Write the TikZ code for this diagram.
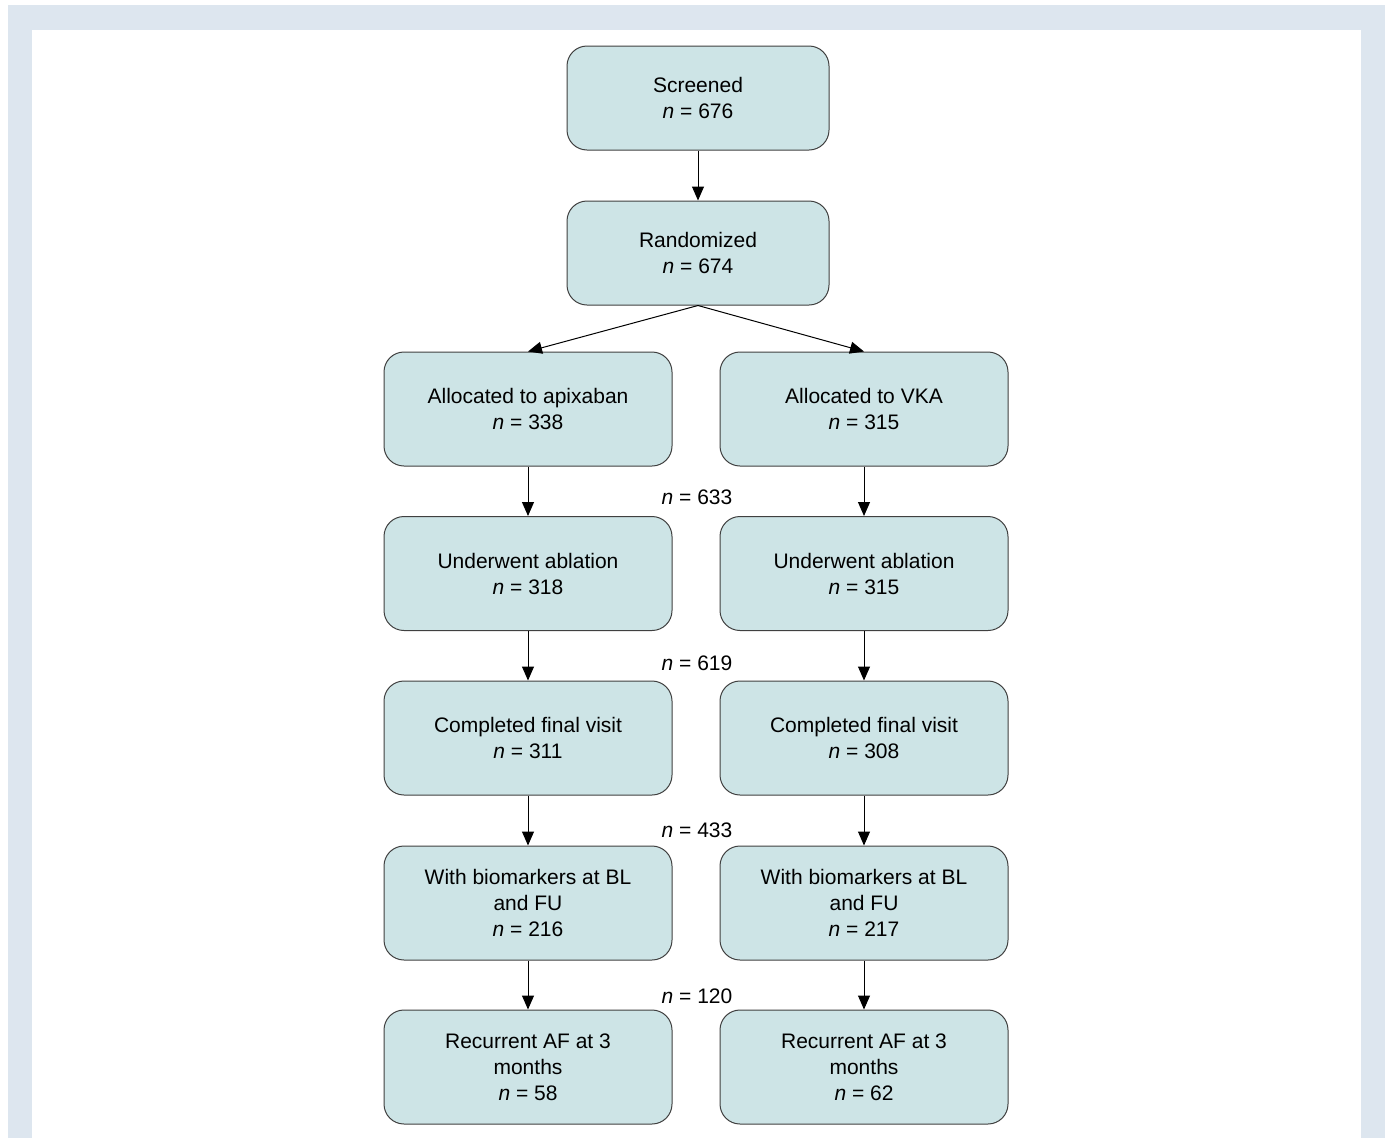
\documentclass[tikz,border=0pt]{standalone}
\usepackage{fontspec}
\setmainfont{Liberation Sans}
\usetikzlibrary{arrows.meta}

\definecolor{boxfill}{RGB}{205,228,230}
\definecolor{framebg}{RGB}{221,230,239}
\definecolor{boxline}{RGB}{64,64,64}

\tikzset{
  flowbox/.style={draw=boxline, fill=boxfill, rounded corners=20pt, line width=1pt,
    minimum width=288pt, minimum height=114pt, align=center, inner sep=0pt,
    font=\fontsize{21}{26}\selectfont},
  topbox/.style={flowbox, minimum width=262pt, minimum height=104pt},
  flowarrow/.style={-{Triangle[length=14pt,width=12pt]}, line width=1pt},
  countlabel/.style={inner sep=0pt, font=\fontsize{21}{26}\selectfont}
}

\begin{document}
\begin{tikzpicture}[x=1pt,y=-1pt]

% Frame and page
\useasboundingbox (0,0) rectangle (1386,1138);
\fill[framebg] (8,5) rectangle (1385,1138);
\fill[white] (32,30) rectangle (1361,1138);

% Top boxes
\node[topbox] (screened) at (698,98) {Screened\\\textit{n} = 676};
\node[topbox] (random) at (698,253) {Randomized\\\textit{n} = 674};

% Apixaban arm
\node[flowbox] (apixA) at (528,409) {Allocated to apixaban\\\textit{n} = 338};
\node[flowbox] (apixB) at (528,573.5) {Underwent ablation\\\textit{n} = 318};
\node[flowbox] (apixC) at (528,738) {Completed final visit\\\textit{n} = 311};
\node[flowbox] (apixD) at (528,903) {With biomarkers at BL\\and FU\\\textit{n} = 216};
\node[flowbox] (apixE) at (528,1067) {Recurrent AF at 3\\months\\\textit{n} = 58};

% VKA arm
\node[flowbox] (vkaA) at (864,409) {Allocated to VKA\\\textit{n} = 315};
\node[flowbox] (vkaB) at (864,573.5) {Underwent ablation\\\textit{n} = 315};
\node[flowbox] (vkaC) at (864,738) {Completed final visit\\\textit{n} = 308};
\node[flowbox] (vkaD) at (864,903) {With biomarkers at BL\\and FU\\\textit{n} = 217};
\node[flowbox] (vkaE) at (864,1067) {Recurrent AF at 3\\months\\\textit{n} = 62};

% Totals between the arms
\node[countlabel] (totB) at (697,497) {\textit{n} = 633};
\node[countlabel] (totC) at (697,663) {\textit{n} = 619};
\node[countlabel] (totD) at (697,830) {\textit{n} = 433};
\node[countlabel] (totE) at (697,996) {\textit{n} = 120};

% Arrows
\draw[flowarrow] (screened) -- (random);
\draw[flowarrow] (random.south) -- (apixA.north);
\draw[flowarrow] (random.south) -- (vkaA.north);
\foreach \a/\b in {apixA/apixB, apixB/apixC, apixC/apixD, apixD/apixE,
                   vkaA/vkaB, vkaB/vkaC, vkaC/vkaD, vkaD/vkaE}
  \draw[flowarrow] (\a) -- (\b);

\end{tikzpicture}
\end{document}
